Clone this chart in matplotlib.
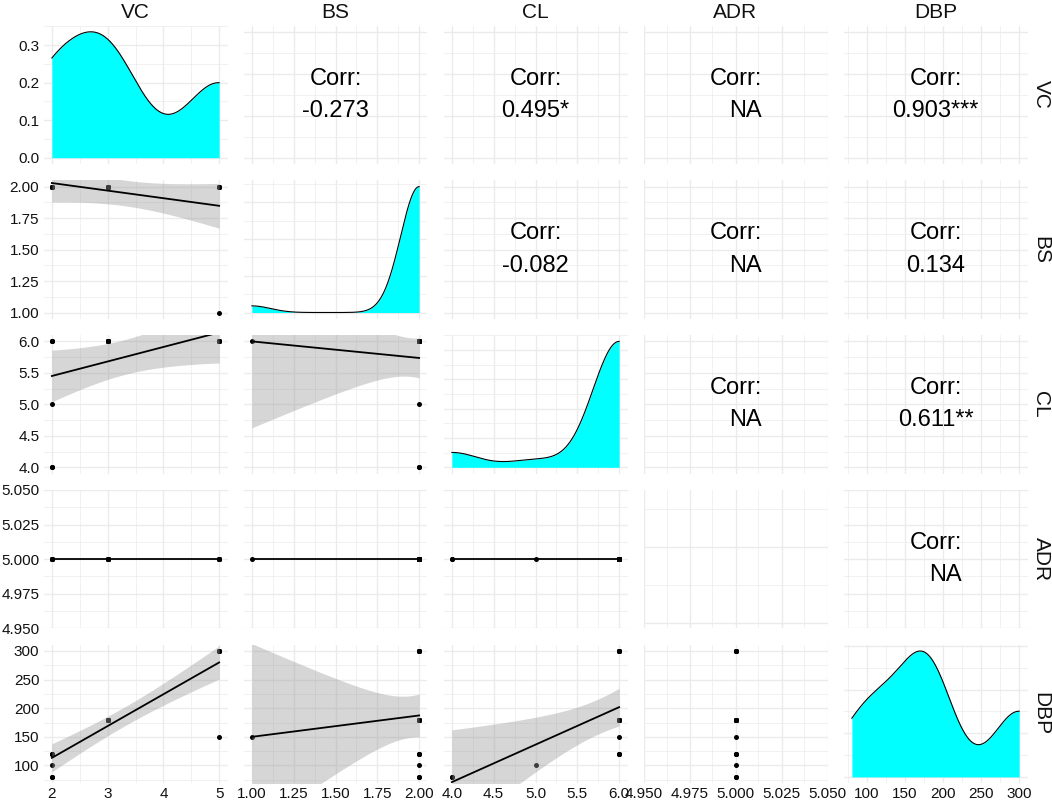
import numpy as np
import matplotlib.pyplot as plt
from matplotlib.ticker import MaxNLocator

plt.rcParams['font.family'] = ['Liberation Sans', 'DejaVu Sans']

# ---- data (20 observations) ----
names = ["VC", "BS", "CL", "ADR", "DBP"]
VC = [2, 2, 2, 2, 2, 2, 3, 3, 3, 3, 3, 3, 3, 3, 5, 5, 5, 5, 5, 5]
BS = [2, 2, 2, 2, 2, 2, 2, 2, 2, 2, 2, 2, 2, 2, 2, 2, 2, 2, 2, 1]
CL = [4, 4, 5, 6, 6, 6, 6, 6, 6, 6, 6, 6, 6, 6, 6, 6, 6, 6, 6, 6]
ADR = [5, 5, 5, 5, 5, 5, 5, 5, 5, 5, 5, 5, 5, 5, 5, 5, 5, 5, 5, 5]
DBP = [80, 80, 100, 120, 120, 120, 180, 180, 180, 180, 180, 180, 180, 180,
       300, 300, 300, 300, 300, 150]
columns = [VC, BS, CL, ADR, DBP]

# correlation labels, upper triangle read row by row
corr_labels = ["-0.273", "0.495*", "NA", "0.903***",
               "-0.082", "NA", "0.134",
               "NA", "0.611**",
               "NA"]

tick_values = [[2, 3, 4, 5],
               [1.0, 1.25, 1.5, 1.75, 2.0],
               [4.0, 4.5, 5.0, 5.5, 6.0],
               [4.95, 4.975, 5.0, 5.025, 5.05],
               [100, 150, 200, 250, 300]]
tick_labels = [["2", "3", "4", "5"],
               ["1.00", "1.25", "1.50", "1.75", "2.00"],
               ["4.0", "4.5", "5.0", "5.5", "6.0"],
               ["4.950", "4.975", "5.000", "5.025", "5.050"],
               ["100", "150", "200", "250", "300"]]
dens_ticks = [0.0, 0.1, 0.2, 0.3]
dens_labels = ["0.0", "0.1", "0.2", "0.3"]

GRID = '#EBEBEB'
TXT = '#111111'


def limits(v):
    lo, hi = min(v), max(v)
    if hi == lo:
        return lo - 0.05, hi + 0.05
    pad = 0.05 * (hi - lo)
    return lo - pad, hi + pad


def minors(major, lim):
    step = major[1] - major[0]
    m = np.arange(major[0] - step / 2, major[-1] + step, step)
    return [t for t in m if lim[0] <= t <= lim[1]]


def kde(v):
    # gaussian density, bandwidth as R's bw.nrd0, cut at the data range
    x = np.asarray(v, float)
    n = len(x)
    sd = x.std(ddof=1)
    q1, q3 = np.percentile(x, [25, 75])
    lo = min(sd, (q3 - q1) / 1.34)
    if lo == 0:
        lo = sd
    bw = 0.9 * lo * n ** -0.2
    g = np.linspace(x.min(), x.max(), 512)
    d = np.exp(-0.5 * ((g[:, None] - x[None, :]) / bw) ** 2).sum(1)
    return g, d / (n * bw * np.sqrt(2 * np.pi))


def lm_band(xv, yv):
    x = np.asarray(xv, float)
    y = np.asarray(yv, float)
    n = len(x)
    b, a = np.polyfit(x, y, 1)
    xs = np.linspace(x.min(), x.max(), 100)
    fit = a + b * xs
    s = np.sqrt(np.sum((y - a - b * x) ** 2) / (n - 2))
    se = s * np.sqrt(1 / n + (xs - x.mean()) ** 2 / np.sum((x - x.mean()) ** 2))
    t = 2.101  # t(0.975, 18)
    return xs, fit, fit - t * se, fit + t * se


fig = plt.figure(figsize=(10.52, 8.02), dpi=100)
W, H = 1052, 802
pw, ph = 184, 138.5
nv = len(names)
k = 0
for i in range(nv):
    for j in range(nv):
        left = 43.5 + 200 * j
        top = 25.5 + 154.8 * i
        ax = fig.add_axes([left / W, 1 - (top + ph) / H, pw / W, ph / H])
        xlim = limits(columns[j])
        ax.set_xlim(xlim)
        ax.set_xticks(tick_values[j])
        ax.set_xticks(minors(tick_values[j], xlim), minor=True)

        if i == j:
            x = columns[j]
            if max(x) > min(x):
                g, d = kde(x)
                ax.fill_between(g, 0, d, color='#00FFFF', lw=0, zorder=2)
                ax.plot(g, d, color='black', lw=0.8, zorder=3)
                top_d = d.max()
                ax.set_ylim(-0.05 * top_d, 1.05 * top_d)
                if i == 0:
                    ax.set_yticks(dens_ticks)
                    ax.set_yticklabels(dens_labels)
                    ax.set_yticks(minors(dens_ticks, ax.get_ylim()), minor=True)
                else:
                    yt = MaxNLocator(5, steps=[1, 2, 2.5, 5, 10]).tick_values(0, top_d)
                    yt = [t for t in yt if t <= 1.05 * top_d]
                    ax.set_yticks(yt)
                    ax.set_yticks(minors(yt, ax.get_ylim()), minor=True)
            else:
                ax.set_ylim(0, 1)
                ax.set_yticks([0.04, 0.59])
                ax.set_yticks([0.315, 0.865], minor=True)
        else:
            ylim = limits(columns[i])
            ax.set_ylim(ylim)
            ax.set_yticks(tick_values[i])
            ax.set_yticks(minors(tick_values[i], ylim), minor=True)
            if j == 0:
                ax.set_yticklabels(tick_labels[i])
            if i > j:
                ax.scatter(columns[j], columns[i], s=13, color='black', lw=0, zorder=2)
                if max(columns[j]) > min(columns[j]):
                    xs, fit, lo, hi = lm_band(columns[j], columns[i])
                    ax.fill_between(xs, lo, hi, color='#999999', alpha=0.4, lw=0, zorder=3)
                    ax.plot(xs, fit, color='black', lw=1.3, zorder=4)
            else:
                lab = corr_labels[k]
                k += 1
                ax.text(0.5, 0.5, "Corr:\n" + lab, transform=ax.transAxes,
                        ha='center', va='center', fontsize=17, color='black',
                        linespacing=1.6,
                        multialignment='right' if lab == "NA" else 'center')

        if i == nv - 1:
            ax.set_xticklabels(tick_labels[j])
        else:
            ax.set_xticklabels([])
        if j != 0:
            ax.set_yticklabels([])

        ax.grid(which='major', color=GRID, lw=1.0)
        ax.grid(which='minor', color=GRID, lw=0.5)
        ax.set_axisbelow(True)
        ax.tick_params(which='both', length=0, labelsize=11, colors=TXT, pad=3)
        for sp in ax.spines.values():
            sp.set_visible(False)

        if i == 0:
            fig.text((left + pw / 2) / W, 1 - 12 / H, names[j], ha='center',
                     va='center', fontsize=15, color=TXT)
    fig.text(1041 / W, 1 - (25.5 + 154.8 * i + ph / 2) / H, names[i], ha='center',
             va='center', rotation=-90, fontsize=15, color=TXT)

fig.savefig('out.png', dpi=100)
